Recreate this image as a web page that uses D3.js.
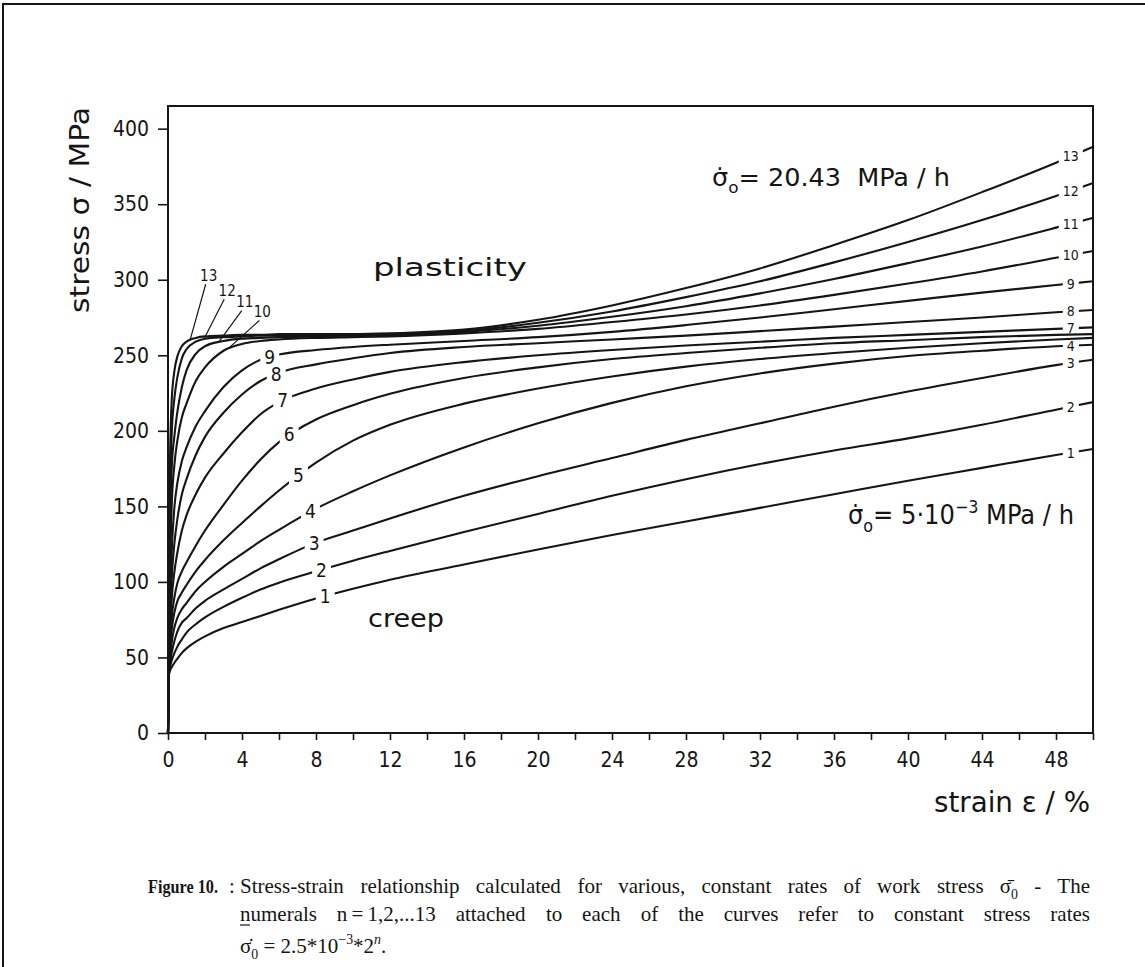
<!DOCTYPE html>
<html>
<head>
<meta charset="utf-8">
<script src="https://cdn.jsdelivr.net/npm/d3@7"></script>
<style>
  body { margin: 0; background: #fff; }
  svg { display: block; }
  text { white-space: pre; }
</style>
</head>
<body>
<svg id="chart" width="1145" height="967"></svg>
<script>
// ---- data -----------------------------------------------------------------
// strain (%) grid shared by every curve
const strain = [0, 0.05, 0.1, 0.2, 0.35, 0.5, 0.75, 1, 1.5, 2, 3, 4, 5, 6, 8, 10, 12, 16, 20, 24, 28, 32, 36, 40, 44, 48, 50];

// stress (MPa) for stress rate n = 1 ... 13 at the strains above
const stress1  = [0, 38, 41, 43.5, 46.5, 49, 53, 56, 60.5, 64, 69.5, 73.5, 77.5, 81.5, 89, 95.5, 101.5, 111.5, 121.5, 131, 140, 149, 158, 167, 175.5, 184, 188];
const stress2  = [0, 39, 43, 48, 53, 57, 62, 66.5, 72, 76.5, 83.5, 89.5, 95, 99.5, 107, 114, 120.5, 133, 145, 157, 168, 178, 187, 195, 204, 214, 219];
const stress3  = [0, 40, 45, 53, 61, 67, 73, 76, 82.5, 87.5, 95, 102, 109, 115, 126, 134, 142, 157, 170, 182, 194, 205, 216, 226, 235, 243.5, 247];
const stress4  = [0, 41, 48, 60, 70, 76, 82, 86, 94, 100, 110, 118.5, 127, 134.5, 148.5, 160, 170.5, 189, 205, 218.5, 229.5, 238, 244.5, 249.5, 253, 256, 257];
const stress5  = [0, 42, 52, 68, 80, 87, 93, 98, 107, 114.5, 127.5, 139, 150, 160.5, 179, 193.5, 204, 218, 228, 236, 242.5, 247.5, 251.5, 255, 258, 260.5, 261.5];
const stress6  = [0, 43, 56, 76, 90, 99, 107, 113, 124, 134, 151, 167, 181, 192.5, 207.5, 217, 224.5, 235, 242, 247.5, 251.5, 255, 258, 260, 262, 263.5, 264];
const stress7  = [0, 44, 62, 88, 107, 119, 134, 144, 158, 169, 185, 199, 211, 219, 228, 234, 239, 245.5, 250, 253.5, 256.5, 259, 261.5, 263.5, 265.5, 267.5, 268.5];
const stress8  = [0, 46, 70, 102, 126, 141, 158, 168, 184, 196, 212, 224, 233, 238.5, 244, 248, 251.5, 255.5, 258, 260.5, 263, 266, 269, 272, 275, 278.5, 280];
const stress9  = [0, 48, 80, 120, 150, 165, 180, 189, 203, 213, 229, 240, 247, 250.5, 253.5, 255.5, 257, 259.5, 262, 265.5, 270, 275, 280.5, 286, 291.5, 296.5, 299];
const stress10 = [0, 52, 100, 150, 178, 193, 209, 218, 233, 242, 253, 257.5, 259.5, 260.5, 261.5, 262, 262.5, 264.5, 267.5, 272, 277, 283, 290, 297.5, 305.5, 314.5, 319];
const stress11 = [0, 58, 125, 175, 197, 212, 229, 240, 251, 256, 259.5, 261, 261.5, 262, 262.5, 263, 263.5, 265.5, 269.5, 275.5, 282.5, 291, 300.5, 311, 322, 334.5, 341];
const stress12 = [0, 65, 150, 198, 222, 235, 248, 254, 259, 261, 262, 262.5, 263, 263, 263.5, 263.5, 264, 266, 271.5, 279, 288.5, 299, 311.5, 325, 339.5, 355.5, 364];
const stress13 = [0, 72, 172, 220, 240, 249, 256, 259, 261.5, 262.5, 263, 263.5, 263.5, 264, 264, 264, 264.5, 267, 273.5, 283, 294.5, 307.5, 323, 339.5, 358, 377.5, 388];

const curveIds = [1, 2, 3, 4, 5, 6, 7, 8, 9, 10, 11, 12, 13];
const stressByCurve = [stress1, stress2, stress3, stress4, stress5, stress6, stress7,
                       stress8, stress9, stress10, stress11, stress12, stress13];

// curve numbers set into a break of the line, left part of the chart
const inlineLabelIds = [1, 2, 3, 4, 5, 6, 7, 8, 9];
const inlineLabelStrain = [8.5, 8.3, 7.9, 7.7, 7.05, 6.55, 6.2, 5.85, 5.5];

// numbers 10..13 written above the knee, joined to their curve by a leader
const leaderIds = [13, 12, 11, 10];
const leaderTextStrain = [2.2, 3.2, 4.15, 5.1];
const leaderTextStress = [303, 293, 285.5, 279];
const leaderTipStrain = [1.2, 1.95, 2.75, 3.3];

// curve numbers repeated near the right border
const endLabelIds = [1, 2, 3, 4, 7, 8, 9, 10, 11, 12, 13];
const endLabelStrain = 48.8;

// axes
const xTicks = d3.range(0, 51, 2);
const xTickLabels = [0, 4, 8, 12, 16, 20, 24, 28, 32, 36, 40, 44, 48];
const yTicks = [0, 50, 100, 150, 200, 250, 300, 350, 400];

// ---- drawing --------------------------------------------------------------
const W = 1145, H = 967;
const INK = "#151515";
const FONT = "'DejaVu Sans Condensed', 'DejaVu Sans', sans-serif";
const SERIF = "'Liberation Serif', 'DejaVu Serif', serif";

const svg = d3.select("#chart");
const x = d3.scaleLinear().domain([0, 50]).range([168, 1093]);
const y = d3.scaleLinear().domain([0, 415]).range([733, 106]);

// page border of the sheet
svg.append("path")
  .attr("d", `M3,${H} V4 H${W}`)
  .attr("fill", "none").attr("stroke", INK).attr("stroke-width", 2);

const defs = svg.append("defs");
const curveG = svg.append("g");
const labelG = svg.append("g")
  .attr("font-family", FONT).attr("fill", INK);

const line = d3.line()
  .x(d => x(d[0]))
  .y(d => y(d[1]))
  .curve(d3.curveMonotoneX);

const curves = curveIds.map((id, i) => {
  const pts = strain.map((s, j) => [s, stressByCurve[i][j]]);
  const mask = defs.append("mask")
    .attr("id", "gap" + id)
    .attr("maskUnits", "userSpaceOnUse")
    .attr("x", 0).attr("y", 0).attr("width", W).attr("height", H);
  mask.append("rect").attr("width", W).attr("height", H).attr("fill", "#fff");
  const path = curveG.append("path")
    .datum(pts)
    .attr("d", line)
    .attr("fill", "none")
    .attr("stroke", INK)
    .attr("stroke-width", 2.1)
    .attr("stroke-linejoin", "round")
    .attr("mask", `url(#gap${id})`);
  return { id, pts, mask, path };
});
const curveById = id => curves.find(c => c.id === id);

// y pixel of a drawn curve at horizontal pixel px
function yOnPath(node, px) {
  let lo = 0, hi = node.getTotalLength(), p = node.getPointAtLength(0);
  for (let k = 0; k < 40; k++) {
    const mid = (lo + hi) / 2;
    p = node.getPointAtLength(mid);
    if (p.x < px) lo = mid; else hi = mid;
  }
  return p.y;
}

// number sitting in a break of its curve
function gapLabel(c, s, size, padX) {
  const px = x(s), py = yOnPath(c.path.node(), px);
  const t = labelG.append("text")
    .attr("x", px).attr("y", py).attr("dy", "0.36em")
    .attr("text-anchor", "middle")
    .attr("font-size", size)
    .text(c.id);
  const b = t.node().getBBox();
  c.mask.append("rect")
    .attr("x", b.x - padX).attr("y", b.y - 2)
    .attr("width", b.width + 2 * padX).attr("height", b.height + 4)
    .attr("fill", "#000");
}

inlineLabelIds.forEach((id, i) => gapLabel(curveById(id), inlineLabelStrain[i], 19, 4));
endLabelIds.forEach(id => gapLabel(curveById(id), endLabelStrain, 14, 4));

leaderIds.forEach((id, i) => {
  const c = curveById(id);
  const tx = x(leaderTextStrain[i]), ty = y(leaderTextStress[i]);
  labelG.append("text")
    .attr("x", tx).attr("y", ty).attr("dy", "0.36em")
    .attr("text-anchor", "middle")
    .attr("font-size", 15)
    .text(id);
  const ex = x(leaderTipStrain[i]);
  const ey = yOnPath(c.path.node(), ex);
  labelG.append("line")
    .attr("x1", tx - 3).attr("y1", ty + 9)
    .attr("x2", ex).attr("y2", ey)
    .attr("stroke", INK).attr("stroke-width", 1.2);
});

// axes
const xAxis = d3.axisBottom(x)
  .tickValues(xTicks)
  .tickSize(7)
  .tickPadding(12)
  .tickFormat(d => xTickLabels.includes(d) ? String(d) : "");
const gx = svg.append("g").attr("transform", "translate(0,733)").call(xAxis);

const yAxis = d3.axisLeft(y)
  .tickValues(yTicks)
  .tickSize(10)
  .tickPadding(9);
const gy = svg.append("g").attr("transform", "translate(168,0)").call(yAxis);

[gx, gy].forEach(g => {
  g.select(".domain").remove();
  g.selectAll(".tick line").attr("stroke", INK).attr("stroke-width", 1.6);
  g.selectAll(".tick text")
    .attr("fill", INK)
    .attr("font-family", FONT)
    .attr("font-size", 21);
});

// plot frame
svg.append("rect")
  .attr("x", x(0)).attr("y", y(415))
  .attr("width", x(50) - x(0)).attr("height", y(0) - y(415))
  .attr("fill", "none").attr("stroke", INK).attr("stroke-width", 2);

// text with sub/superscript pieces
function richText(parent, segs, px, py, size, family) {
  const t = parent.append("text")
    .attr("x", px).attr("y", py)
    .attr("font-family", family).attr("font-size", size)
    .attr("fill", INK);
  let shift = 0;
  segs.forEach(sg => {
    const target = sg.k === "sub" ? size * 0.28 : sg.k === "sup" ? -size * 0.42 : 0;
    const sp = t.append("tspan").attr("dy", target - shift).text(sg.t);
    if (sg.k) sp.attr("font-size", size * 0.66);
    if (sg.it) sp.attr("font-style", "italic");
    shift = target;
  });
  return t;
}

// regime names and the two limiting stress rates
labelG.append("text")
  .attr("x", 373).attr("y", 276)
  .attr("font-size", 25).attr("textLength", 154).attr("lengthAdjust", "spacingAndGlyphs")
  .text("plasticity");
labelG.append("text")
  .attr("x", 368).attr("y", 627)
  .attr("font-size", 25).attr("textLength", 76).attr("lengthAdjust", "spacingAndGlyphs")
  .text("creep");

richText(labelG, [{ t: "σ\u0307" }, { t: "o", k: "sub" }, { t: "= 20.43  MPa / h" }], 712, 186, 25, FONT)
  .attr("textLength", 238).attr("lengthAdjust", "spacingAndGlyphs");
richText(labelG, [{ t: "σ\u0307" }, { t: "o", k: "sub" }, { t: "= 5·10" }, { t: "−3", k: "sup" }, { t: " MPa / h" }], 848, 524, 27, FONT)
  .attr("textLength", 226).attr("lengthAdjust", "spacingAndGlyphs");

// axis titles
labelG.append("text")
  .attr("transform", "translate(80,210) rotate(-90)")
  .attr("text-anchor", "middle").attr("dy", "0.36em")
  .attr("font-size", 26).attr("textLength", 206).attr("lengthAdjust", "spacingAndGlyphs")
  .text("stress σ / MPa");
labelG.append("text")
  .attr("x", 1090).attr("y", 812)
  .attr("text-anchor", "end")
  .attr("font-size", 29).attr("textLength", 156).attr("lengthAdjust", "spacingAndGlyphs")
  .text("strain ε / %");

// caption, justified between the indent and the right margin
const capG = svg.append("g");
const CAP = 21;
function justify(words, x0, x1, py) {
  const nodes = words.map(w => richText(capG, w, 0, py, CAP, SERIF));
  const widths = nodes.map(n => n.node().getBBox().width);
  const gap = (x1 - x0 - d3.sum(widths)) / (nodes.length - 1);
  let cx = x0;
  nodes.forEach((n, i) => { n.attr("x", cx); cx += widths[i] + gap; });
  return nodes;
}
richText(capG, [{ t: "Figure 10." }], 148, 893, 19, SERIF)
  .attr("font-weight", "bold")
  .attr("textLength", 70).attr("lengthAdjust", "spacingAndGlyphs");
richText(capG, [{ t: ":" }], 229, 893, CAP, SERIF);
const line1 = "Stress-strain relationship calculated for various, constant rates of work stress".split(" ")
  .map(w => [{ t: w }]);
line1.push([{ t: "σ\u0304" }, { t: "0", k: "sub" }], [{ t: "-" }], [{ t: "The" }]);
justify(line1, 240, 1090, 893);
const line2 = "numerals n\u2009=\u20091,2,...13 attached to each of the curves refer to constant stress rates".split(" ")
  .map(w => [{ t: w }]);
const l2 = justify(line2, 240, 1090, 921);
capG.append("line")
  .attr("x1", +l2[0].attr("x")).attr("x2", +l2[0].attr("x") + 10)
  .attr("y1", 925).attr("y2", 925)
  .attr("stroke", INK).attr("stroke-width", 1.2);
richText(capG, [{ t: "σ\u0307" }, { t: "0", k: "sub" }, { t: " = 2.5*10" }, { t: "−3", k: "sup" },
                { t: "*2" }, { t: "n", k: "sup", it: true }, { t: "." }], 240, 953, CAP, SERIF);
</script>
</body>
</html>
